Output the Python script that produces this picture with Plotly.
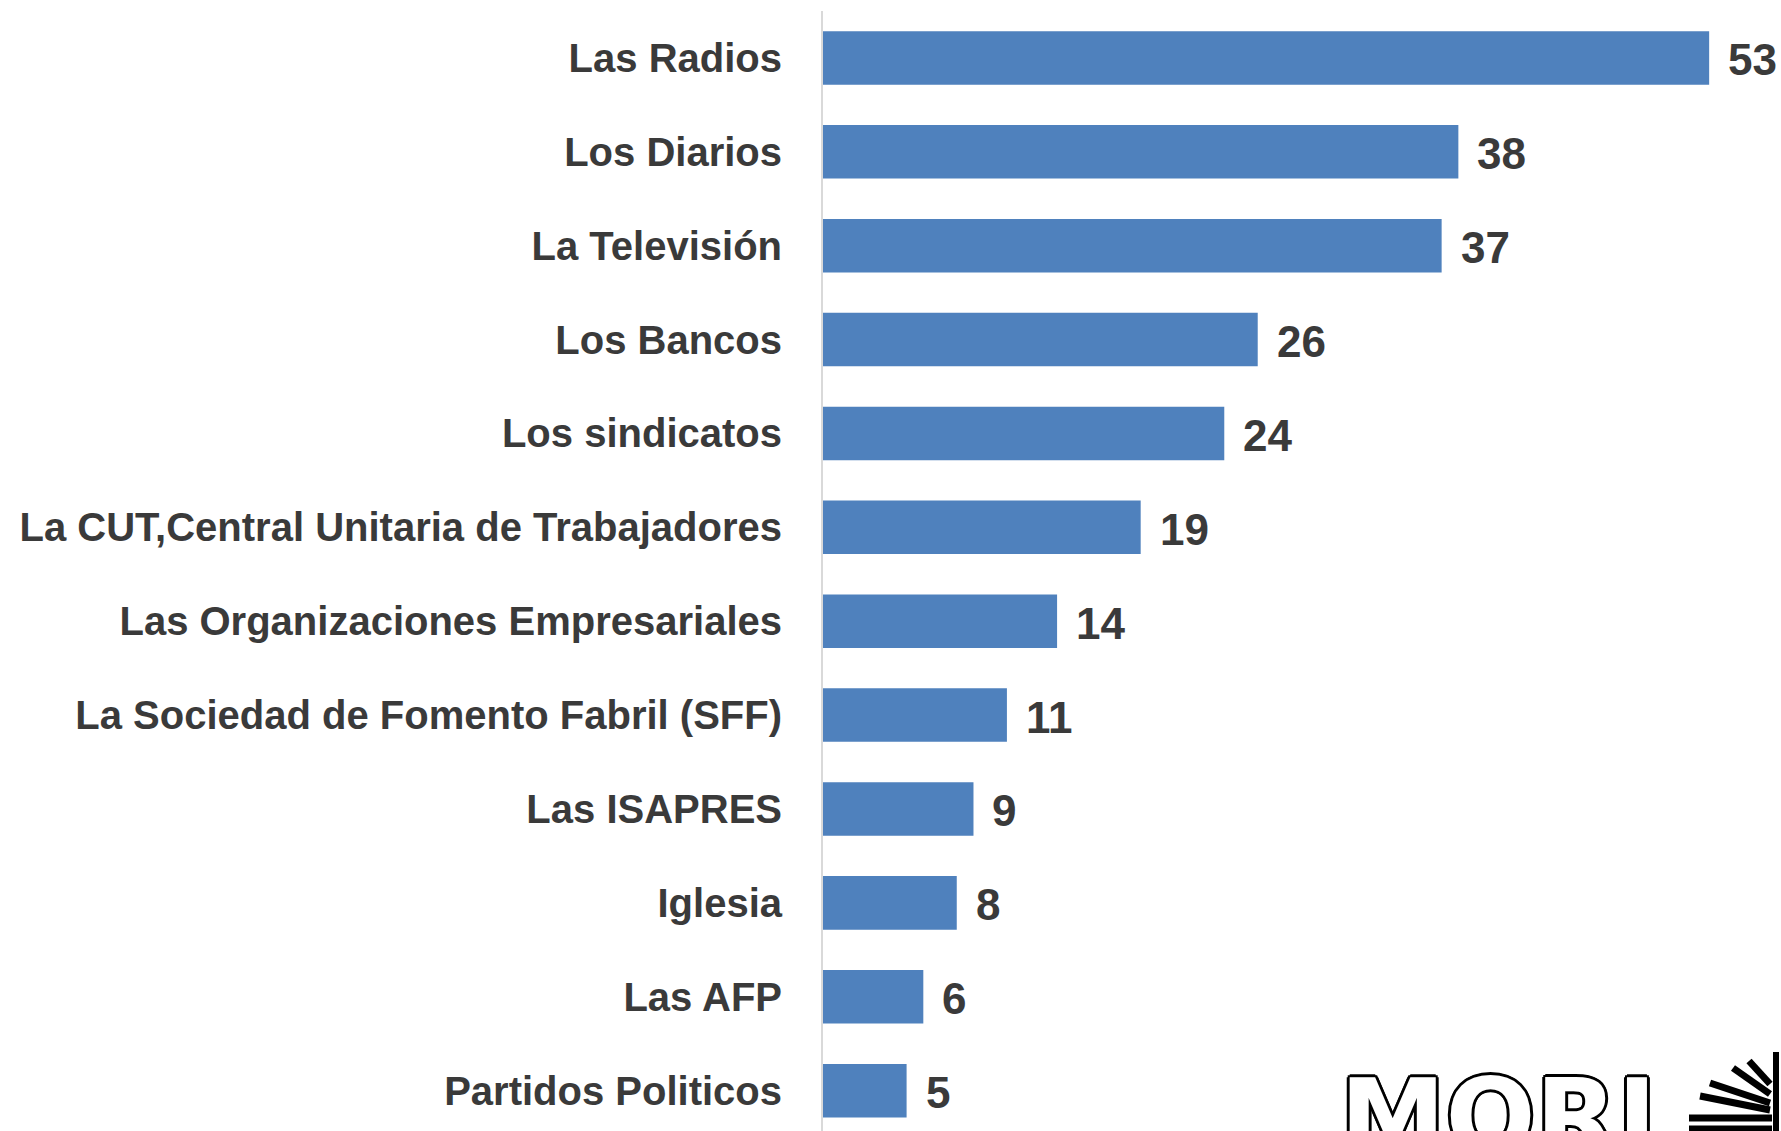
import plotly.graph_objects as go

categories = [
    "Las Radios",
    "Los Diarios",
    "La Televisión",
    "Los Bancos",
    "Los sindicatos",
    "La CUT,Central Unitaria de Trabajadores",
    "Las Organizaciones Empresariales",
    "La Sociedad de Fomento Fabril (SFF)",
    "Las ISAPRES",
    "Iglesia",
    "Las AFP",
    "Partidos Politicos",
]
values = [53, 38, 37, 26, 24, 19, 14, 11, 9, 8, 6, 5]

W, H = 1781, 1131
ML, MR, MT, MB = 823, 0, 11, 0
TEXT = "#3a3a3a"
LABEL_FONT = "Liberation Sans Narrow, Arial Narrow, Liberation Sans, sans-serif"

fig = go.Figure()
fig.add_trace(go.Bar(
    x=values, y=categories, orientation="h",
    marker=dict(color="#4F81BD", line=dict(width=0)),
    hoverinfo="x+y",
))

for c, v in zip(categories, values):
    fig.add_annotation(
        x=v, y=c, text=str(v), showarrow=False,
        xanchor="left", yanchor="middle", xshift=17, yshift=-2,
        font=dict(family="Liberation Sans, Arial, sans-serif", size=44, color=TEXT, weight="bold"),
    )

# logo (decorative)
pw, ph = W - ML - MR, H - MT - MB
def px(X):
    return (X - ML) / pw
def py(Y):
    return (H - MB - Y) / ph

fig.add_annotation(
    xref="paper", yref="paper", x=px(1338), y=py(1054), xanchor="left", yanchor="top",
    text="MORI", showarrow=False,
    font=dict(family="DejaVu Sans, sans-serif", size=106, color="white", weight="bold",
              shadow="3px 0 0 #000, -3px 0 0 #000, 0 3px 0 #000, 0 -3px 0 #000, 2px 2px 0 #000, -2px -2px 0 #000, 2px -2px 0 #000, -2px 2px 0 #000"),
)
rays = [
    (1689, 1118, 1772, 1118),
    (1689, 1129, 1772, 1129),
    (1700, 1096, 1770, 1110),
    (1710, 1083, 1770, 1103),
    (1733, 1068, 1770, 1094),
    (1749, 1061, 1770, 1084),
]
for x0, y0, x1, y1 in rays:
    fig.add_shape(type="line", xref="paper", yref="paper",
                  x0=px(x0), y0=py(y0), x1=px(x1), y1=py(y1),
                  line=dict(color="black", width=7))
fig.add_shape(type="line", xref="paper", yref="paper",
              x0=px(1776), y0=py(1052), x1=px(1776), y1=py(1135),
              line=dict(color="black", width=6))

fig.update_layout(
    width=W, height=H,
    margin=dict(l=ML, r=MR, t=MT, b=MB, pad=0),
    plot_bgcolor="white", paper_bgcolor="white",
    bargap=0.43, showlegend=False,
    xaxis=dict(range=[0, pw / 16.72], visible=False, fixedrange=True),
    yaxis=dict(
        type="category", categoryorder="array", categoryarray=categories,
        range=[11.43, -0.5],
        showline=True, linecolor="#D9D9D9", linewidth=2,
        ticks="", showgrid=False, zeroline=False,
        ticklabelstandoff=31,
        tickfont=dict(family=LABEL_FONT, size=40, color=TEXT, weight="bold"),
    ),
)

fig.write_html("out.html", config={"displayModeBar": False},
               post_script="document.body.style.margin='0';document.body.style.overflow='hidden';")
